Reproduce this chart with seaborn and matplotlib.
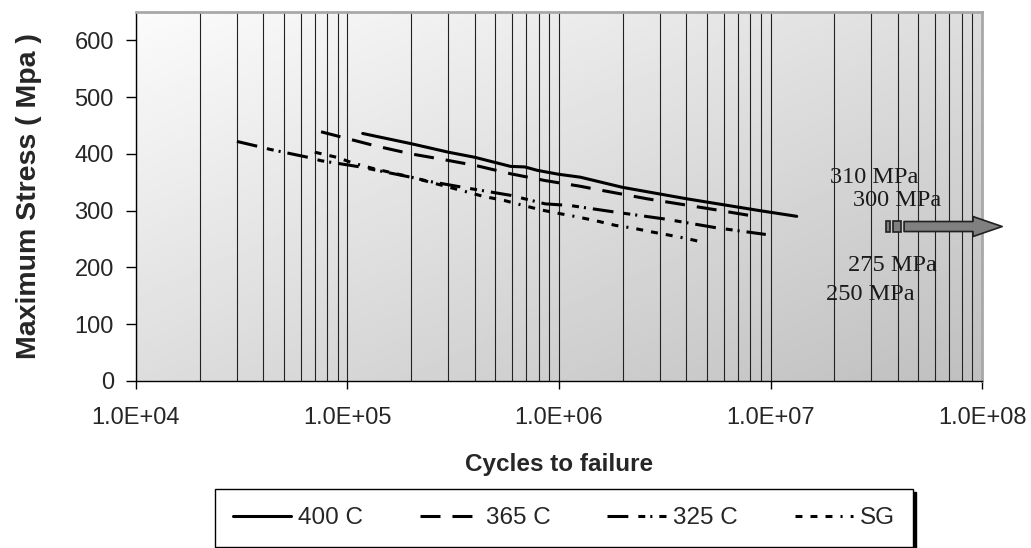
import matplotlib
matplotlib.use("Agg")
import matplotlib.pyplot as plt
import matplotlib.patches as mpatches
from matplotlib.ticker import FixedLocator, FuncFormatter, LogLocator, NullFormatter
import numpy as np
import pandas as pd
import seaborn as sns

# cycles to failure / max stress
n400 = [1.18e5, 2.0e5, 3.0e5, 4.0e5, 5.9e5, 6.9e5, 7.9e5, 1.0e6, 1.26e6, 2.0e6, 4.0e6, 8.9e6, 1.33e7]
s400 = [436, 418, 403, 394, 378, 377, 371, 364, 359, 341, 321, 300, 290]

n365 = [7.5e4, 1.36e5, 2.0e5, 2.85e5, 4.1e5, 5.9e5, 8.6e5, 1.26e6, 1.43e6, 2.6e6, 5.4e6, 8.75e6]
s365 = [439, 414, 400, 390, 379, 365, 353, 343, 339, 321, 302, 289]

n325 = [3.0e4, 3.7e4, 4.3e4, 6.5e4, 7.5e4, 1.15e5, 2.05e5, 2.4e5, 3.65e5, 5.9e5, 8.6e5,
        1.13e6, 1.8e6, 3.2e6, 5.5e6, 9.5e6]
s325 = [422, 414, 408, 394, 388, 377, 358, 352, 340, 327, 312, 309, 298, 285, 270, 258]

n_sg = [7.0e4, 8.9e4, 1.06e5, 1.3e5, 2.0e5, 3.5e5, 4.4e5, 5.5e5, 6.8e5, 8.3e5, 1.0e6,
        1.22e6, 1.5e6, 1.85e6, 2.25e6, 2.7e6, 3.3e6, 4.0e6, 4.7e6]
s_sg = [403, 394, 384, 375, 359, 335, 325, 318, 309, 301, 295, 289, 282, 274, 269, 263, 257, 251, 245]

series_names = ["400 C", "365 C", "325 C", "SG"]

# stress level notes on the right
note_labels = ["310 MPa", "300 MPa", "275 MPa", "250 MPa"]
note_x = [1.91e7, 2.46e7, 2.32e7, 1.83e7]
note_y = [349, 309, 194, 143]

y_ticks = [0, 100, 200, 300, 400, 500, 600]
x_decades = [1e4, 1e5, 1e6, 1e7, 1e8]

df = pd.concat([
    pd.DataFrame({"N": n, "S": s, "series": name})
    for n, s, name in zip([n400, n365, n325, n_sg], [s400, s365, s325, s_sg], series_names)
], ignore_index=True)

sns.set_theme(style="white")
plt.rcParams["font.family"] = ["Liberation Sans", "DejaVu Sans"]
plt.rcParams["lines.scale_dashes"] = False

fig, ax = plt.subplots(figsize=(10.31, 5.48), dpi=100)
fig.subplots_adjust(left=0.1319, right=0.9525, top=0.978, bottom=0.305)

dashes = {
    "400 C": "",
    "365 C": (14.4, 8.6),
    "325 C": (15, 7.2, 5, 3.6, 1.5, 5),
    "SG": (5, 5.8, 5, 5.8, 5, 5.8, 1.5, 5.8),
}
sns.lineplot(data=df, x="N", y="S", style="series", style_order=series_names,
             dashes=dashes, color="black", linewidth=2.2, estimator=None, sort=False,
             ax=ax, zorder=3)

ax.set_xscale("log")
ax.set_xlim(1e4, 1e8)
ax.set_ylim(0, 650)
ax.set_autoscale_on(False)

# gradient background, light top-left to gray bottom-right
u = np.linspace(0, 1, 300)
v = np.linspace(0, 1, 150)
grad = 0.985 - 0.235 * (u[None, :] + v[:, None]) / 2
ax.imshow(grad, extent=(0, 1, 0, 1), transform=ax.transAxes, aspect="auto",
          cmap="gray", vmin=0, vmax=1, zorder=0, interpolation="bilinear")

ax.xaxis.set_major_locator(FixedLocator(x_decades))
ax.xaxis.set_minor_locator(LogLocator(base=10, subs=np.arange(2, 10)))
ax.xaxis.set_major_formatter(FuncFormatter(lambda v, p: f"{v:.1E}"))
ax.xaxis.set_minor_formatter(NullFormatter())
ax.set_yticks(y_ticks)
ax.grid(True, which="both", axis="x", color="#222222", linewidth=0.8, zorder=1)
ax.grid(False, axis="y")

ax.tick_params(axis="x", which="major", direction="out", length=6, width=1,
               color="black", labelsize=17, pad=13, bottom=True)
ax.tick_params(axis="x", which="minor", length=0)
ax.tick_params(axis="y", which="major", direction="out", length=7, width=1,
               color="black", labelsize=17, pad=9, left=True)

for side in ["top", "right"]:
    ax.spines[side].set_color("#a8a8a8")
    ax.spines[side].set_linewidth(2)
for side in ["left", "bottom"]:
    ax.spines[side].set_color("black")
    ax.spines[side].set_linewidth(1)

ax.set_xlabel("Cycles to failure", fontsize=17.5, fontweight="bold")
ax.set_ylabel("Maximum Stress ( Mpa )", fontsize=20.5, fontweight="bold")
ax.xaxis.set_label_coords(0.5, -0.195)
ax.yaxis.set_label_coords(-0.111, 0.5)

for lab, x, y in zip(note_labels, note_x, note_y):
    ax.text(x, y, lab, family=["Liberation Serif", "DejaVu Serif"], fontsize=17.5,
            color="#1a1a1a", ha="left", va="baseline", zorder=4)

# striped arrow pointing to run-outs
ax.add_patch(mpatches.Rectangle((3.52e7, 263), 3.67e7 - 3.52e7, 18, facecolor="#808080",
                                edgecolor="#202020", linewidth=1.2, zorder=4))
ax.add_patch(mpatches.Rectangle((3.79e7, 263), 4.14e7 - 3.79e7, 18, facecolor="#808080",
                                edgecolor="#202020", linewidth=1.2, zorder=4))
ax.annotate("", xy=(1.245e8, 272), xytext=(4.28e7, 272), annotation_clip=False,
            arrowprops=dict(arrowstyle="simple,head_length=2.1,head_width=1.44,tail_width=0.72",
                            mutation_scale=10, facecolor="#808080", edgecolor="#202020",
                            linewidth=1.2, shrinkA=0, shrinkB=0, clip_on=False), zorder=4)

lg = ax.get_legend()
handles = list(lg.legend_handles)
labels = [t.get_text() for t in lg.get_texts()]
lg.remove()
for h in handles:
    h.set_color("black")
    h.set_linewidth(2.2)

leg = fig.legend(handles, labels, loc="upper center", bbox_to_anchor=(564 / 1031, 1 - 489 / 548),
                 ncol=4, fontsize=17.5, frameon=True, fancybox=False, borderaxespad=0,
                 handlelength=2.39, handletextpad=0.29, columnspacing=2.35, borderpad=0.75,
                 shadow={"color": "black", "alpha": 1.0})
leg.get_frame().set_edgecolor("black")
leg.get_frame().set_linewidth(1)
leg.get_frame().set_facecolor("white")
leg.get_frame().set_alpha(1)

fig.savefig("out.png", dpi=100)
